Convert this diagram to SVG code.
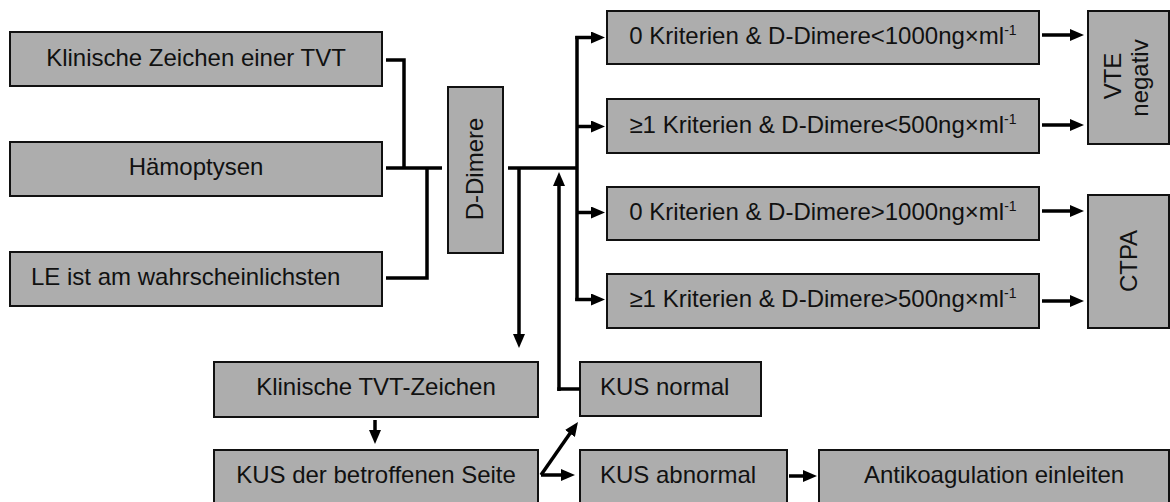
<svg xmlns="http://www.w3.org/2000/svg" width="1170" height="502" viewBox="0 0 1170 502">
<style>
.box{fill:#adadad;stroke:#111;stroke-width:2}
.t{font-family:"Liberation Sans",Arial,sans-serif;font-size:24px;fill:#111}
.c{text-anchor:middle}
.sup{font-size:14px}
.ln{fill:none;stroke:#000;stroke-width:3.5}
.ar{fill:none;stroke:#000;stroke-width:3.5;marker-end:url(#ah)}
</style>
<defs>
<marker id="ah" markerUnits="userSpaceOnUse" viewBox="0 0 14 12" refX="6" refY="6" markerWidth="14" markerHeight="12" orient="auto">
<path d="M0,0 L14,6 L0,12 z" fill="#000"/>
</marker>
</defs>
<rect width="1170" height="502" fill="#fff"/>
<g id="k1"><rect class="box" x="10" y="32" width="372" height="54"/><text class="t c" x="196" y="66">Klinische Zeichen einer TVT</text></g>
<g id="k2"><rect class="box" x="10" y="142" width="372" height="54"/><text class="t c" x="196" y="175">Hämoptysen</text></g>
<g id="k3"><rect class="box" x="10" y="252" width="372" height="54"/><text class="t" x="31" y="285">LE ist am wahrscheinlichsten</text></g>
<g id="dd"><rect class="box" x="448" y="87" width="55" height="166"/><text class="t c" transform="translate(483,169) rotate(-90)">D-Dimere</text></g>
<g id="c1"><rect class="box" x="607" y="11" width="432" height="53"/><text class="t c" x="823" y="44">0 Kriterien &amp; D-Dimere&lt;1000ng×ml<tspan class="sup" dy="-9">-1</tspan></text></g>
<g id="c2"><rect class="box" x="607" y="99" width="432" height="54"/><text class="t c" x="823" y="133">≥1 Kriterien &amp; D-Dimere&lt;500ng×ml<tspan class="sup" dy="-9">-1</tspan></text></g>
<g id="c3"><rect class="box" x="607" y="187" width="432" height="53"/><text class="t c" x="823" y="220">0 Kriterien &amp; D-Dimere&gt;1000ng×ml<tspan class="sup" dy="-9">-1</tspan></text></g>
<g id="c4"><rect class="box" x="607" y="274" width="432" height="54"/><text class="t c" x="823" y="307">≥1 Kriterien &amp; D-Dimere&gt;500ng×ml<tspan class="sup" dy="-9">-1</tspan></text></g>
<g id="vte"><rect class="box" x="1088" y="11" width="81" height="133"/><text class="t c" transform="translate(1121,76) rotate(-90)">VTE</text><text class="t c" transform="translate(1148,78) rotate(-90)">negativ</text></g>
<g id="ctpa"><rect class="box" x="1088" y="195" width="81" height="133"/><text class="t c" transform="translate(1137,261) rotate(-90)">CTPA</text></g>
<g id="tvt"><rect class="box" x="214" y="362" width="324" height="55"/><text class="t c" x="376" y="395">Klinische TVT-Zeichen</text></g>
<g id="kus"><rect class="box" x="214" y="450" width="324" height="56"/><text class="t c" x="376" y="483">KUS der betroffenen Seite</text></g>
<g id="kusn"><rect class="box" x="580" y="362" width="181" height="54"/><text class="t" x="600" y="395">KUS normal</text></g>
<g id="kusa"><rect class="box" x="580" y="450" width="207" height="56"/><text class="t" x="600" y="483">KUS abnormal</text></g>
<g id="anti"><rect class="box" x="819" y="450" width="350" height="56"/><text class="t c" x="994" y="483">Antikoagulation einleiten</text></g>
<g id="connectors">
<path class="ln" d="M386,60 H404 V168"/>
<path class="ln" d="M386,168 H442"/>
<path class="ln" d="M386,278 H427 V168"/>
<path class="ln" d="M508,168 H577"/>
<path class="ln" d="M577,36 V301"/>
<path class="ar" d="M575.25,37.5 H597"/>
<path class="ar" d="M577,126.5 H597"/>
<path class="ar" d="M577,212.5 H597"/>
<path class="ar" d="M575.25,299.5 H597"/>
<path class="ar" d="M519,168 V340"/>
<path class="ar" d="M559,391 V180"/>
<path class="ln" d="M557.25,389 H580"/>
<path class="ar" d="M375,420 V436"/>
<path class="ar" d="M541,475 L573.4,428.6"/>
<path class="ar" d="M541,475 H567"/>
<path class="ar" d="M789,476 H809"/>
<path class="ar" d="M1042,35 H1076"/>
<path class="ar" d="M1042,125 H1076"/>
<path class="ar" d="M1042,211 H1076"/>
<path class="ar" d="M1042,301 H1076"/>
</g>
</svg>
